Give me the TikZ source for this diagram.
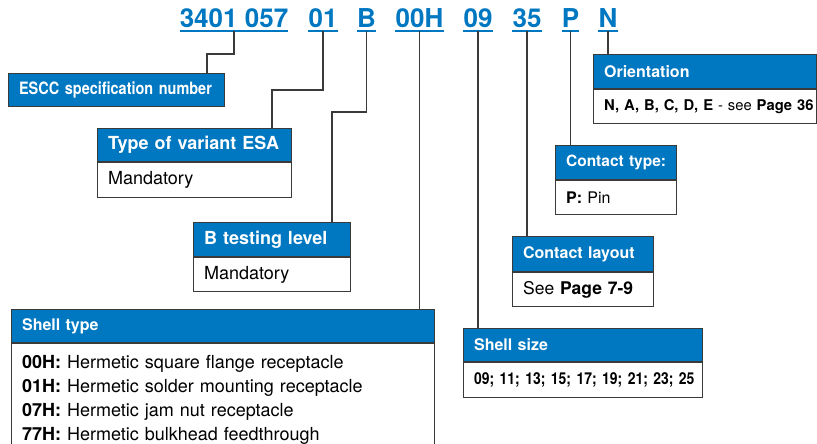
\documentclass[tikz,border=0pt]{standalone}
\usepackage{fontspec}
\setmainfont{TeX Gyre Heros}
\newfontfamily\cnd{TeX Gyre Heros}[FakeStretch=0.85]
\definecolor{esablue}{HTML}{0077C1}
\definecolor{frame}{HTML}{3A3A3A}
\begin{document}
\begin{tikzpicture}[x=1pt, y=-1pt,
  code/.style={font=\fontsize{26}{28}\selectfont\bfseries, text=esablue, inner sep=0pt, anchor=base},
  uline/.style={esablue, line width=1.3pt},
  wire/.style={frame, line width=1.3pt},
  hdr/.style={draw=frame, line width=1.2pt, fill=esablue, text=white, anchor=north west,
    inner xsep=10.5pt, inner ysep=0pt, align=left, font=\fontsize{16}{19}\selectfont\bfseries},
  body/.style={draw=frame, line width=1.2pt, fill=white, anchor=north west,
    inner xsep=10.5pt, inner ysep=0pt, align=left, font=\fontsize{16}{19}\selectfont}]
  \useasboundingbox (0,0) rectangle (817,444);
  \clip (0,0) rectangle (817,444);
  % Bestellschluessel oben, unterstrichen
  \foreach \xpos/\cname/\ctext in {234/cspec/3401 057, 323/cvar/01, 366.5/ctest/B, 419.5/cstype/00H,
      478/cssize/09, 527/clay/35, 570.5/cctype/P, 608/corient/N}{
    \node[code] (\cname) at (\xpos,28) {\ctext};
    \draw[uline] ([yshift=-3pt]\cname.base west) -- ([yshift=-3pt]\cname.base east);
  }
  % ESCC number
  \node[hdr, text width=195pt, minimum height=33pt, font=\cnd\fontsize{17}{20}\selectfont\bfseries] (spec) at (8,73)
    {\mbox{ESCC specification number}};
  % variant
  \node[hdr, text width=173pt, minimum height=33pt, font=\fontsize{18}{21}\selectfont\bfseries] (var) at (97,128) {Type of variant ESA};
  \node[body, text width=173pt, minimum height=35pt, font=\fontsize{18}{21}\selectfont] (varb) at (var.south west) {Mandatory};
  % testing level
  \node[hdr, text width=136pt, minimum height=34pt, font=\fontsize{18}{21}\selectfont\bfseries] (test) at (193,222) {B testing level};
  \node[body, text width=136pt, minimum height=34pt, font=\fontsize{18}{21}\selectfont] (testb) at (test.south west) {Mandatory};
  % shell type
  \node[hdr, text width=402pt, minimum height=33pt] (stype) at (11,309) {Shell type};
  \node[body, text width=402pt, inner ysep=12pt, font=\fontsize{18}{24}\selectfont] (stypeb) at (stype.south west)
    {\textbf{00H:} Hermetic square flange receptacle\\
     \textbf{01H:} Hermetic solder mounting receptacle\\
     \textbf{07H:} Hermetic jam nut receptacle\\
     \textbf{77H:} Hermetic bulkhead feedthrough};
  % shell size
  \node[hdr, text width=218pt, minimum height=33pt] (ssize) at (463,328) {Shell size};
  \node[body, text width=218pt, minimum height=35pt, font=\cnd\fontsize{16.4}{19}\selectfont\bfseries] (ssizeb) at (ssize.south west)
    {\mbox{09; 11; 13; 15; 17; 19; 21; 23; 25}};
  % contact layout
  \node[hdr, text width=120pt, minimum height=35pt] (lay) at (512,236) {Contact layout};
  \node[body, text width=120pt, minimum height=34pt, font=\fontsize{17.5}{20}\selectfont] (layb) at (lay.south west)
    {See \textbf{Page 7-9}};
  % contact type
  \node[hdr, text width=100pt, minimum height=34pt, font=\fontsize{15.5}{18}\selectfont\bfseries] (ctype) at (555,145)
    {\mbox{Contact type:}};
  \node[body, text width=100pt, minimum height=34pt] (ctypeb) at (ctype.south west) {\textbf{P:} Pin};
  % orientation
  \node[hdr, text width=202pt, minimum height=34pt] (orient) at (593,54) {Orientation};
  \node[body, text width=202pt, minimum height=34pt, font=\fontsize{14.8}{18}\selectfont] (orientb) at (orient.south west)
    {\mbox{\textbf{N, A, B, C, D, E} - see \textbf{Page 36}}};
  % Verbindungslinien
  \draw[wire] ([yshift=-3pt]cspec.base) -- ++(0,23) -| ([xshift=199pt]spec.north west);
  \draw[wire] ([yshift=-3pt]cvar.base) -- ++(0,59) -| ([xshift=175pt]var.north west);
  \draw[wire] ([yshift=-3pt]ctest.base) -- ++(0,81) -| ([xshift=139pt]test.north west);
  \draw[wire] ([yshift=-3pt]cstype.base) -- (cstype.base |- stype.north);
  \draw[wire] ([yshift=-3pt]cssize.base) -- (cssize.base |- ssize.north);
  \draw[wire] ([yshift=-3pt]clay.base) -- (clay.base |- lay.north);
  \draw[wire] ([yshift=-3pt]cctype.base) -- (cctype.base |- ctype.north);
  \draw[wire] ([yshift=-3pt]corient.base) -- (corient.base |- orient.north);
\end{tikzpicture}
\end{document}
